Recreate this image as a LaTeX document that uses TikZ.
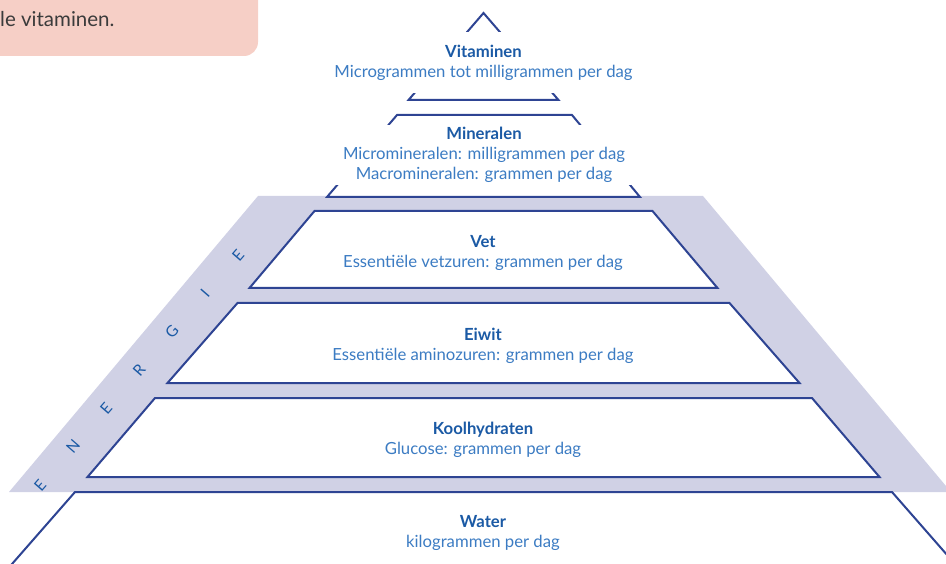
\documentclass[tikz,border=0pt]{standalone}
\usepackage{fontspec}
\setmainfont{Lato}
\usetikzlibrary{positioning}

\definecolor{lijnblauw}{HTML}{2E4493}
\definecolor{kopblauw}{HTML}{1B5AA5}
\definecolor{tekstblauw}{HTML}{3C7CC3}
\definecolor{energieband}{HTML}{D0D1E5}
\definecolor{kaderroze}{HTML}{F6CFC6}
\definecolor{kadertekst}{HTML}{3B3B3B}

\tikzset{
  laag/.style={draw=lijnblauw, line width=2pt, fill=white},
  laagtekst/.style={align=center, text=tekstblauw, inner sep=0pt,
    font=\fontsize{16.7}{20}\selectfont},
  afdek/.style={fill=white, minimum width=304pt},
  letter/.style={text=kopblauw, rotate=49, inner sep=0pt,
    font=\fontsize{15.5}{15.5}\selectfont},
}
\newcommand{\laagkop}[1]{{\bfseries\color{kopblauw}#1}}

\begin{document}
\begin{tikzpicture}[x=1pt,y=-1pt]
    \useasboundingbox (0,0) rectangle (946,564);
    \clip (0,0) rectangle (946,564);

    % kader linksboven
    \fill[kaderroze, rounded corners=14pt] (-30,-30) rectangle (258,56);
    \node[anchor=west, inner sep=0pt, text=kadertekst,
      font=\fontsize{20.5}{24}\selectfont] (kader) at (0,19) {le vitaminen.};

    % energieband
    \path[fill=energieband] (258,196) -- (703,196) -- (951,492) -- (9,492) -- cycle;
    \begin{scope}
      \clip (258,196) -- (703,196) -- (951,492) -- (9,492) -- cycle;
      \foreach \l [count=\i from 0] in {E,N,E,R,G,I,E}
        \node[letter] (energie-\i) at (40+33*\i, 485-38.3*\i) {\l};
    \end{scope}

    % lagen van de piramide
    \draw[laag] (483.5,13) -- (558.5,100) -- (408.5,100) -- cycle;
    \draw[laag] (397,115) -- (572,115) -- (640,197) -- (327,197) -- cycle;
    \draw[laag] (314.5,211) -- (652.5,211) -- (717.5,288) -- (249.5,288) -- cycle;
    \draw[laag] (237.5,303) -- (729.5,303) -- (799.5,383) -- (167.5,383) -- cycle;
    \draw[laag] (155,398) -- (812,398) -- (879.5,477) -- (87.5,477) -- cycle;
    \draw[laag] (75,492) -- (892,492) -- (969,580) -- (-2,580) -- cycle;

    % teksten
    \node[laagtekst, afdek, minimum height=61pt] (vitaminen) at (483.5,63)
      {\laagkop{Vitaminen}\\Microgrammen tot milligrammen per dag};
    \node[laagtekst, afdek, minimum height=60pt] (mineralen) at (484,155)
      {\laagkop{Mineralen}\\Micromineralen: milligrammen per dag\\Macromineralen: grammen per dag};
    \node[laagtekst] (vet) at (483,253)
      {\laagkop{Vet}\\Essentiële vetzuren: grammen per dag};
    \node[laagtekst] (eiwit) at (483,345.5)
      {\laagkop{Eiwit}\\Essentiële aminozuren: grammen per dag};
    \node[laagtekst] (koolhydraten) at (483,439.5)
      {\laagkop{Koolhydraten}\\Glucose: grammen per dag};
    \node[laagtekst] (water) at (483,533)
      {\laagkop{Water}\\kilogrammen per dag};
\end{tikzpicture}
\end{document}
